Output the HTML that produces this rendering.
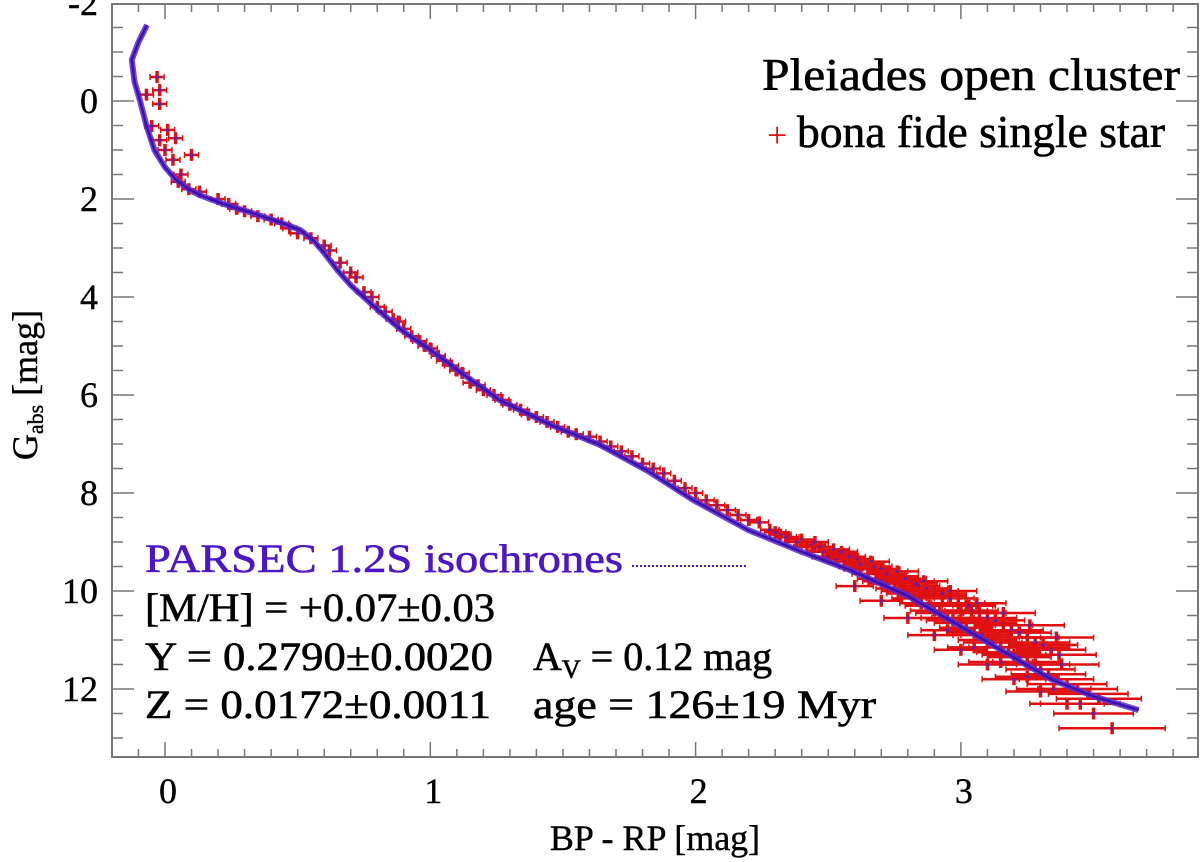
<!DOCTYPE html>
<html><head><meta charset="utf-8">
<style>
html,body{margin:0;padding:0;background:#fff;}
svg{display:block;font-family:"Liberation Serif",serif;}
</style></head>
<body>
<svg id="chart" width="1200" height="862" viewBox="0 0 1200 862" xmlns="http://www.w3.org/2000/svg">
<rect x="0" y="0" width="1200" height="862" fill="#fff"/>
<g id="marks"></g>
<g id="axes"></g>
<text x="762" y="90" font-size="46" stroke="#000" stroke-width="0.6" textLength="418" lengthAdjust="spacingAndGlyphs">Pleiades open cluster</text>
<text x="767" y="147" font-size="36" fill="#e01010">+</text>
<text x="797" y="147" font-size="46" stroke="#000" stroke-width="0.6" textLength="368" lengthAdjust="spacingAndGlyphs">bona fide single star</text>
<text x="145" y="572" font-size="40" fill="#4a16c8" stroke="#4a16c8" stroke-width="0.6" textLength="478" lengthAdjust="spacingAndGlyphs">PARSEC 1.2S isochrones</text>
<line x1="632" y1="566" x2="748" y2="566" stroke="#4a16c8" stroke-width="2" stroke-dasharray="2,2"/>
<g stroke="#000" stroke-width="0.6">
<text x="145" y="621" font-size="40" textLength="350" lengthAdjust="spacingAndGlyphs">[M/H] = +0.07±0.03</text>
<text x="145" y="670" font-size="40" textLength="348" lengthAdjust="spacingAndGlyphs">Y = 0.2790±0.0020</text>
<text x="533" y="670" font-size="40">A<tspan font-size="26" dy="8">V</tspan><tspan dy="-8"> = 0.12 mag</tspan></text>
<text x="145" y="718" font-size="40" textLength="346" lengthAdjust="spacingAndGlyphs">Z = 0.0172±0.0011</text>
<text x="533" y="718" font-size="40" textLength="343" lengthAdjust="spacingAndGlyphs">age = 126±19 Myr</text>
</g>
<text x="655" y="850" font-size="36" stroke="#000" stroke-width="0.4" text-anchor="middle">BP - RP [mag]</text>
<text transform="translate(37,385) rotate(-90)" font-size="36" stroke="#000" stroke-width="0.4" text-anchor="middle">G<tspan font-size="22" dy="6">abs</tspan><tspan dy="-6"> [mag]</tspan></text>
</svg>
<script>
const isoColor=[-0.068,-0.1,-0.125,-0.115,-0.094,-0.07,-0.04,0.0,0.04,0.09,0.13,0.22,0.32,0.42,0.51,0.56,0.6,0.65,0.7,0.8,0.89,1.0,1.13,1.26,1.45,1.64,1.82,1.99,2.2,2.4,2.58,2.8,2.96,3.15,3.34,3.5,3.67];
const isoMag=[-1.55,-1.2,-0.84,-0.4,0,0.5,1.0,1.35,1.6,1.8,1.92,2.1,2.27,2.45,2.63,2.85,3.1,3.45,3.76,4.25,4.67,5.08,5.6,6.1,6.6,7.02,7.55,8.14,8.76,9.2,9.57,10.1,10.6,11.2,11.8,12.15,12.43];
const starColor=[-0.03,-0.02,-0.02,-0.07,-0.05,0.01,-0.02,0.0,0.04,0.1,0.03,0.06,0.05,0.09,0.13,0.2,0.24,0.27,0.3,0.35,0.4,0.44,0.47,0.5,0.55,0.6,0.62,0.66,0.7,0.72,0.75,0.78,0.8,0.83,0.86,0.88,0.9,0.93,0.96,0.98,1.0,1.03,1.05,1.08,1.1,1.12,1.15,1.18,1.2,1.24,1.27,1.3,1.34,1.37,1.4,1.44,1.48,1.52,1.55,1.6,1.64,1.68,1.72,1.76,1.8,1.84,1.88,1.92,1.96,2.0,2.04,2.08,2.12,2.16,2.2,2.24,2.28,2.32,2.35,2.38,2.42,2.45,2.48,2.5,2.53,2.56,2.6,2.62,2.65,2.68,2.7,2.72,2.75,2.78,2.8,2.82,2.85,2.88,2.9,2.92,2.95,2.97,3.0,3.02,3.05,3.08,3.1,3.12,3.15,3.18,3.2,3.22,3.25,3.28,3.3,3.33,3.36,3.4,3.44,3.48,3.52,2.6,2.7,2.8,2.9,3.0,3.1,3.2,3.3,3.4,3.5,2.95,3.05,3.15,3.25,3.35,3.45,3.57,2.5,2.65,2.85,3.0,3.1,3.18,3.28,3.38,
2.3,2.34,2.4,2.44,2.47,2.52,2.55,2.58,2.61,2.64,2.67,2.7,2.73,2.76,2.79,2.82,2.84,2.87,2.9,2.93,2.96,2.99,3.02,3.04,3.07,3.1,3.13,3.16,3.19,3.22,3.25,3.28,3.31,3.34,3.37,2.45,2.55,2.66,2.76,2.86,2.96,3.06,3.16,3.26,3.36,2.62,2.72,2.83,2.93,3.03];
const starMag=[-0.49,-0.22,0.06,-0.13,0.51,0.59,0.8,1.0,0.76,1.1,1.2,1.5,1.65,1.8,1.85,2.0,2.1,2.2,2.25,2.35,2.42,2.5,2.6,2.7,2.8,2.95,3.05,3.3,3.5,3.6,3.9,4.0,4.2,4.3,4.45,4.5,4.65,4.8,4.9,5.0,5.05,5.2,5.3,5.4,5.5,5.55,5.75,5.8,5.9,6.0,6.1,6.2,6.3,6.4,6.45,6.55,6.65,6.75,6.8,6.85,6.95,7.05,7.15,7.25,7.4,7.5,7.6,7.75,7.9,8.0,8.15,8.25,8.35,8.45,8.55,8.6,8.75,8.85,8.9,9.0,9.1,9.1,9.2,9.3,9.35,9.4,9.5,9.55,9.65,9.75,9.8,9.85,9.95,10.0,10.05,10.15,10.25,10.3,10.4,10.45,10.55,10.6,10.65,10.75,10.85,10.9,11.0,11.05,11.15,11.25,11.3,11.35,11.45,11.5,11.6,11.7,11.8,11.9,12.0,12.1,12.2,9.9,10.2,10.55,10.9,11.2,11.5,11.8,12.05,12.3,12.5,10.8,11.15,11.45,11.75,12.0,12.3,12.8,9.3,9.55,10.1,10.4,10.65,10.95,11.15,11.5,
8.8,8.9,8.95,9.05,9.1,9.15,9.25,9.3,9.35,9.45,9.5,9.55,9.6,9.7,9.75,9.8,9.9,9.95,10.0,10.1,10.15,10.25,10.3,10.4,10.45,10.55,10.6,10.7,10.8,10.85,10.95,11.05,11.1,11.2,11.3,9.0,9.2,9.4,9.6,9.8,10.0,10.25,10.45,10.7,10.95,9.45,9.65,9.85,10.05,10.3];
const starErr=[0.015,0.015,0.015,0.015,0.015,0.015,0.015,0.015,0.015,0.015,0.015,0.015,0.015,0.015,0.015,0.015,0.015,0.015,0.015,0.015,0.015,0.015,0.015,0.015,0.015,0.015,0.015,0.02,0.02,0.02,0.02,0.02,0.02,0.02,0.02,0.02,0.02,0.02,0.02,0.02,0.02,0.02,0.02,0.02,0.02,0.02,0.02,0.02,0.02,0.02,0.02,0.02,0.02,0.02,0.02,0.02,0.02,0.02,0.02,0.02,0.02,0.02,0.02,0.02,0.025,0.025,0.025,0.025,0.025,0.025,0.03,0.03,0.03,0.03,0.03,0.035,0.035,0.04,0.04,0.04,0.05,0.05,0.05,0.05,0.05,0.06,0.06,0.06,0.06,0.07,0.07,0.07,0.07,0.08,0.08,0.08,0.08,0.09,0.09,0.09,0.1,0.1,0.1,0.1,0.1,0.11,0.11,0.11,0.12,0.12,0.12,0.12,0.13,0.13,0.13,0.14,0.14,0.15,0.15,0.15,0.16,0.07,0.08,0.09,0.1,0.1,0.11,0.12,0.13,0.14,0.15,0.1,0.1,0.12,0.12,0.14,0.15,0.2,0.06,0.07,0.09,0.1,0.11,0.12,0.13,0.14,
0.04,0.04,0.05,0.05,0.05,0.06,0.06,0.06,0.06,0.07,0.07,0.07,0.07,0.08,0.08,0.08,0.08,0.08,0.09,0.09,0.09,0.1,0.1,0.1,0.1,0.11,0.11,0.11,0.12,0.12,0.12,0.13,0.13,0.13,0.14,0.05,0.06,0.07,0.08,0.09,0.1,0.11,0.12,0.13,0.14,0.06,0.07,0.08,0.09,0.1];
const xTicks=[0,1,2,3];
const yTicks=[-2,0,2,4,6,8,10,12];

const NS="http://www.w3.org/2000/svg";
const L=112,R=1198,T=4,B=757;
function sx(c){return 165+c*265.3;}
function sy(g){return 3+(g+2)*49;}
function mk(tag,attrs,parent){const e=document.createElementNS(NS,tag);for(const k in attrs)e.setAttribute(k,attrs[k]);parent.appendChild(e);return e;}
const marks=document.getElementById('marks');
const axes=document.getElementById('axes');

for(let i=0;i<starColor.length;i++){
  const x=sx(starColor[i]),y=sy(starMag[i]),e=Math.max(starErr[i]*265.3,7);
  const g=mk('g',{},marks);
  
  
  mk('line',{x1:x-e,y1:y,x2:x+e,y2:y,stroke:'#e01010','stroke-width':2.5},g);
  mk('line',{x1:x-e,y1:y-3,x2:x-e,y2:y+3,stroke:'#e01010','stroke-width':1.5},g);
  mk('line',{x1:x+e,y1:y-3,x2:x+e,y2:y+3,stroke:'#e01010','stroke-width':1.5},g);
  mk('line',{x1:x,y1:y-6,x2:x,y2:y+6,stroke:'#e01010','stroke-width':3.5},g);
  mk('circle',{cx:x,cy:y,r:1.8,fill:'#6020b0'},g);
}
let d='';
for(let i=0;i<isoColor.length;i++){d+=(i?'L':'M')+sx(isoColor[i]).toFixed(1)+','+sy(isoMag[i]).toFixed(1);}
const iso=mk('path',{d:d,fill:'none',stroke:'#5a2ad0','stroke-width':6,'stroke-linejoin':'round',opacity:0.85},marks);


const iso2=mk('path',{d:d,fill:'none',stroke:'#3c10b0','stroke-width':2.5,'stroke-linejoin':'round'},marks);



const fr=mk('rect',{x:L,y:T,width:R-L,height:B-T,fill:'none',stroke:'#777','stroke-width':2},axes);


for(let k=-2;k<=38;k++){
  const c=k/10,x=sx(c);if(x<L||x>R)continue;
  const major=(k%10===0),len=major?15:8;
  mk('line',{x1:x,y1:B,x2:x,y2:B-len,stroke:'#777','stroke-width':1.5},axes);
  mk('line',{x1:x,y1:T,x2:x,y2:T+len,stroke:'#777','stroke-width':1.5},axes);
}
for(let k=-4;k<=27;k++){
  const g=k/2,y=sy(g);if(y<T||y>B)continue;
  const major=(k%4===0),len=major?22:11;
  mk('line',{x1:L,y1:y,x2:L+len,y2:y,stroke:'#777','stroke-width':1.5},axes);
  mk('line',{x1:R,y1:y,x2:R-len,y2:y,stroke:'#777','stroke-width':1.5},axes);
}
for(const t of xTicks){
  const tx=mk('text',{x:sx(t)+3,y:803,'font-size':36,'text-anchor':'middle',stroke:'#000','stroke-width':0.4},axes);
  tx.textContent=t;
  
  
}
for(const t of yTicks){
  const ty=mk('text',{x:98,y:sy(t)+12,'font-size':36,'text-anchor':'end',stroke:'#000','stroke-width':0.4},axes);
  ty.textContent=t;
  
  
}
</script>
</body></html>
